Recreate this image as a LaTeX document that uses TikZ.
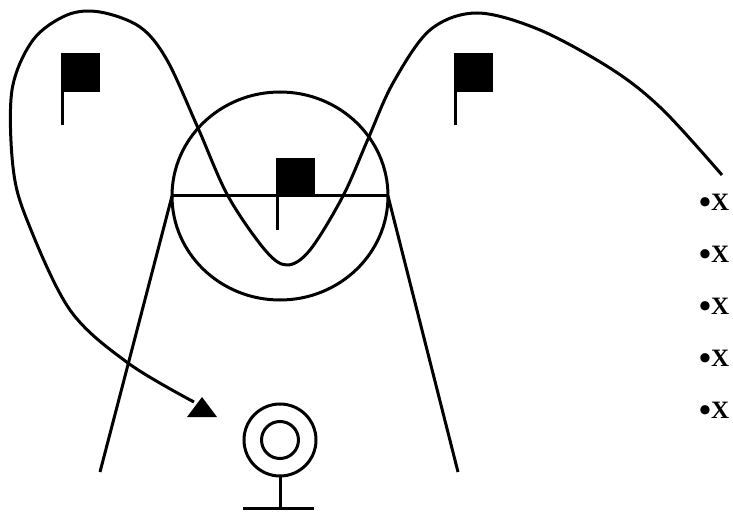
\documentclass[tikz,border=0pt]{standalone}
\usepackage{fontspec}
\setmainfont{Liberation Serif}
\usetikzlibrary{positioning}

\tikzset{
  play/.style={line width=3pt, line join=round},
  flag/.pic={
    \fill (0,0) rectangle (39,39);
    \draw[line width=3pt] (1.5,38) -- (1.5,72);
  },
  marker/.style={font=\fontsize{25}{26}\selectfont\bfseries, anchor=west, inner sep=0pt}
}
\newcommand{\dotmark}{\raisebox{-2.5pt}{\fontsize{34}{34}\selectfont•}}

\begin{document}
\begin{tikzpicture}[x=1pt, y=-1pt]
    \useasboundingbox (0,0) rectangle (733,513);

    % Goal circle and crossbar
    \draw[play] (280,196) circle[x radius=108, y radius=104];
    \coordinate (barL) at (172,196);
    \coordinate (barR) at (388,196);
    \draw[play] (barL) -- (barR);

    % Side lines
    \coordinate (footL) at (100,472);
    \coordinate (footR) at (458,472);
    \draw[play] (barL) -- (footL);
    \draw[play] (barR) -- (footR);

    % Flags
    \pic at (61,53) {flag};
    \pic at (454,53) {flag};
    \pic at (276,158) {flag};

    % Running path
    \coordinate (start) at (722,175);
    \coordinate (finish) at (194,402);
    \draw[play] plot[smooth, tension=0.55] coordinates {
        (start) (663,110) (613,70) (540,30) (477,13) (430,30) (393,83)
        (368,139) (343,196) (310,250) (287,265) (265,250) (228,196)
        (198,128) (167,60) (140,27) (100,12) (67,15) (33,40) (12,90)
        (13,167) (27,220) (70,310) (128,363) (finish)};
    \fill (202,397) -- (217,417) -- (187,417) -- cycle;

    % Target
    \coordinate (tgt) at (280,440);
    \draw[play] (tgt) circle (36);
    \draw[play] (tgt) circle (18.5);
    \draw[play] (280,476) -- (280,508);
    \draw[play] (243,508) -- (314,508);

    % Markers
    \foreach \i/\yy in {1/204, 2/256, 3/308, 4/360, 5/412}
        \node[marker] (mark\i) at (699,\yy) {\dotmark X};
\end{tikzpicture}
\end{document}
